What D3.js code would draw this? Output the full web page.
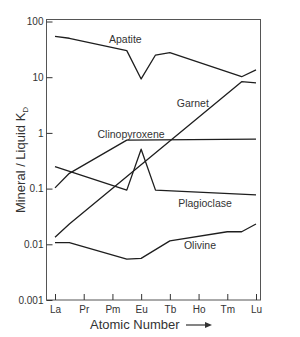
<!DOCTYPE html>
<html>
<head>
<meta charset="utf-8">
<script src="https://cdn.jsdelivr.net/npm/d3@7"></script>
<style>
  body { margin: 0; background: #fff; }
  svg { display: block; font-family: "Liberation Sans", Arial, sans-serif; }
  .axis text { fill: #333; font-size: 10px; }
  .axis path, .axis line { stroke: #333; }
</style>
</head>
<body>
<div class="chart"></div>
<script>
const width = 300, height = 337;

// rare earth elements, La..Lu
const elements = ["La","Ce","Pr","Nd","Pm","Sm","Eu","Gd","Tb","Dy","Ho","Er","Tm","Yb","Lu"];
const tickLabels = ["La","Pr","Pm","Eu","Tb","Ho","Tm","Lu"];
const yTicks = [0.001, 0.01, 0.1, 1, 10, 100];

// partition coefficients read at the kinks of each curve
const apatiteEl = ["La","Ce","Sm","Eu","Gd","Tb","Yb","Lu"];
const apatiteKd = [54, 50, 30, 9.3, 25, 27.5, 10.2, 13.5];

const garnetEl = ["La","Ce","Yb","Lu"];
const garnetKd = [0.0134, 0.0231, 8.3, 7.9];

const cpxEl = ["La","Ce","Sm","Lu"];
const cpxKd = [0.103, 0.188, 0.74, 0.77];

const plagEl = ["La","Sm","Eu","Gd","Lu"];
const plagKd = [0.247, 0.094, 0.51, 0.094, 0.077];

const olivineEl = ["La","Ce","Sm","Eu","Tb","Tm","Yb","Lu"];
const olivineKd = [0.0107, 0.0107, 0.0054, 0.0056, 0.0115, 0.0168, 0.0168, 0.0231];

// curve labels: name, element position, Kd of baseline
const labelNames = ["Apatite","Garnet","Clinopyroxene","Plagioclase","Olivine"];
const labelPos = [4.9, 9.6, 5.3, 10.45, 10.1];
const labelKd = [41, 2.9, 0.81, 0.047, 0.0082];

const svg = d3.select(".chart")
    .append("svg")
    .attr("width", width)
    .attr("height", height);

const x = d3.scaleLinear().domain([0, elements.length - 1]).range([55, 256]);
const y = d3.scaleLog().domain([0.001, 100]).range([300, 21.5]);

// frame
svg.append("rect")
    .attr("x", 46.5).attr("y", 19.5)
    .attr("width", 214).attr("height", 280.5)
    .attr("fill", "none")
    .attr("stroke", "#555")
    .attr("stroke-width", 1);

svg.append("g")
    .attr("class", "axis")
    .attr("transform", "translate(46.5,0)")
    .call(d3.axisLeft(y).tickValues(yTicks).tickFormat(d3.format("~g")).tickSize(-6).tickPadding(3))
    .call(g => g.select(".domain").remove());

svg.append("g")
    .attr("class", "axis")
    .attr("transform", "translate(0,300)")
    .call(d3.axisBottom(x)
        .tickValues(tickLabels.map(t => elements.indexOf(t)))
        .tickFormat(i => elements[i])
        .tickSize(-6).tickPadding(4))
    .call(g => g.select(".domain").remove())
    .call(g => g.selectAll("text").attr("dy", "0.9em"));

const line = d3.line()
    .x(d => x(elements.indexOf(d[0])))
    .y(d => y(d[1]));

const series = [
    [apatiteEl, apatiteKd],
    [garnetEl, garnetKd],
    [cpxEl, cpxKd],
    [plagEl, plagKd],
    [olivineEl, olivineKd]
];

svg.selectAll(".curve")
    .data(series.map(s => d3.zip(s[0], s[1])))
    .join("path")
    .attr("class", "curve")
    .attr("d", line)
    .attr("fill", "none")
    .attr("stroke", "#1e1e1e")
    .attr("stroke-width", 1.3)
    .attr("stroke-linejoin", "round");

svg.selectAll(".lbl")
    .data(labelNames)
    .join("text")
    .attr("class", "lbl")
    .attr("x", (d, i) => x(labelPos[i]))
    .attr("y", (d, i) => y(labelKd[i]))
    .attr("text-anchor", "middle")
    .attr("font-size", 10.5)
    .attr("fill", "#333")
    .text(d => d);

// axis titles
svg.append("text")
    .attr("x", 90).attr("y", 329)
    .attr("font-size", 13)
    .attr("fill", "#333")
    .text("Atomic Number");

svg.append("line")
    .attr("x1", 186).attr("x2", 207)
    .attr("y1", 325).attr("y2", 325)
    .attr("stroke", "#333").attr("stroke-width", 1.2);
svg.append("path")
    .attr("d", "M205,322 L212,325 L205,328 Z")
    .attr("fill", "#333");

const yt = svg.append("text")
    .attr("transform", "translate(24.5,160) rotate(-90)")
    .attr("text-anchor", "middle")
    .attr("font-size", 13)
    .attr("fill", "#333");
yt.append("tspan").text("Mineral / Liquid K");
yt.append("tspan").attr("font-size", 8).attr("dy", 3).text("D");
</script>
</body>
</html>
